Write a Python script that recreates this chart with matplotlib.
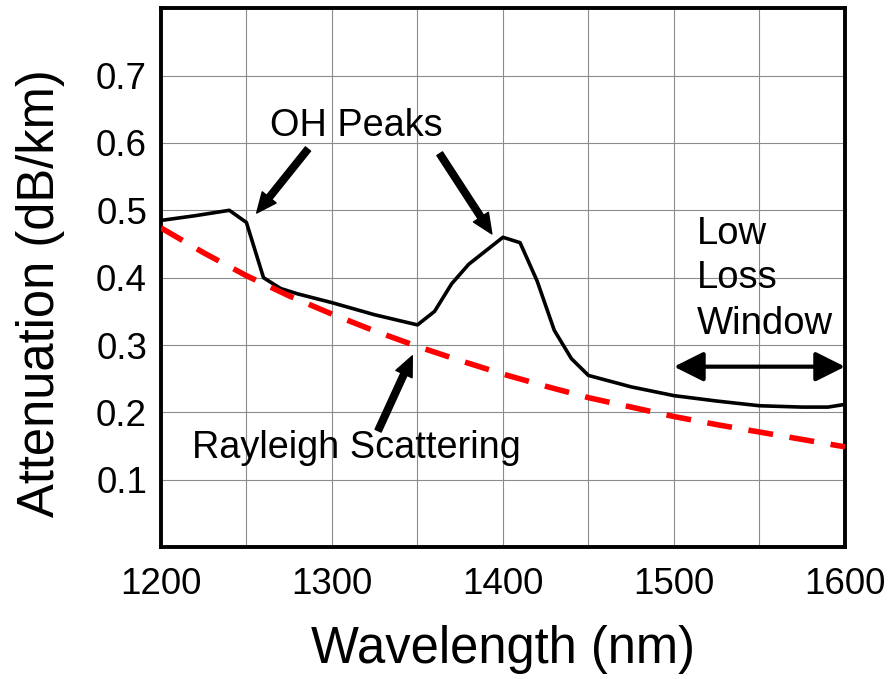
import numpy as np
import matplotlib.pyplot as plt
from matplotlib.ticker import MultipleLocator

plt.rcParams['font.family'] = ['Liberation Sans', 'DejaVu Sans']

# measured attenuation (black curve)
wl_meas = [1200, 1220, 1240, 1250, 1260, 1270, 1280, 1300, 1325, 1350,
           1360, 1370, 1380, 1390, 1400, 1410, 1420, 1430, 1440, 1450,
           1475, 1500, 1525, 1550, 1575, 1590, 1600]
att_meas = [0.485, 0.492, 0.500, 0.482, 0.400, 0.384, 0.376, 0.363, 0.345, 0.330,
            0.350, 0.391, 0.420, 0.440, 0.460, 0.452, 0.395, 0.322, 0.280, 0.255,
            0.238, 0.225, 0.217, 0.210, 0.208, 0.208, 0.212]

# rayleigh scattering limit (red dashed)
wl_ray = [1200, 1225, 1250, 1275, 1300, 1325, 1350, 1375, 1400,
          1425, 1450, 1475, 1500, 1525, 1550, 1575, 1600]
att_ray = [0.474, 0.437, 0.403, 0.373, 0.346, 0.321, 0.298, 0.277, 0.257,
           0.239, 0.222, 0.208, 0.194, 0.182, 0.171, 0.160, 0.149]

fig = plt.figure(figsize=(8.89, 6.79), dpi=100)
ax = fig.add_axes([0.181, 0.194, 0.7695, 0.794])

ax.plot(wl_meas, att_meas, color='black', lw=2.6, zorder=3)
ax.plot(wl_ray, att_ray, color='#ff0000', lw=4, dashes=(4.5, 3), zorder=3)

ax.set_xlim(1200, 1600)
ax.set_ylim(0, 0.8)
ax.xaxis.set_major_locator(MultipleLocator(100))
ax.xaxis.set_minor_locator(MultipleLocator(50))
ax.set_yticks([0.1, 0.2, 0.3, 0.4, 0.5, 0.6, 0.7])
ax.yaxis.set_minor_locator(MultipleLocator(0.1))
ax.grid(True, which='both', color='#8c8c8c', lw=0.8)
ax.set_axisbelow(True)
ax.tick_params(which='both', length=0, labelsize=26.5)
ax.tick_params(axis='x', pad=14)
ax.tick_params(axis='y', pad=10)
for s in ax.spines.values():
    s.set_linewidth(2.8)

ax.set_xlabel('Wavelength (nm)', fontsize=36.5, labelpad=17)
ax.set_ylabel('Attenuation (dB/km)', fontsize=36.5)
ax.yaxis.set_label_coords(-0.14, 0.471)

arrow = dict(arrowstyle='simple,head_length=0.9,head_width=0.8,tail_width=0.3',
             color='black', mutation_scale=16, shrinkA=0, shrinkB=0)

ax.text(1314.5, 0.61, 'OH Peaks', fontsize=27.3, ha='center', va='baseline')
ax.annotate('', xy=(1256, 0.496), xytext=(1286, 0.591), arrowprops=arrow)
ax.annotate('', xy=(1393.5, 0.465), xytext=(1363, 0.584), arrowprops=arrow)

ax.text(1218, 0.132, 'Rayleigh Scattering', fontsize=27.3, ha='left', va='baseline')
ax.annotate('', xy=(1347, 0.284), xytext=(1327, 0.173), arrowprops=arrow)

window_lines = ['Low', 'Loss', 'Window']
window_base = [0.450, 0.384, 0.317]
for txt, yb in zip(window_lines, window_base):
    ax.text(1513.5, yb, txt, fontsize=27.5, ha='left', va='baseline')
ax.annotate('', xy=(1600, 0.268), xytext=(1500, 0.268),
            arrowprops=dict(arrowstyle='<|-|>,head_length=0.9,head_width=0.45',
                            color='black', lw=3, mutation_scale=20,
                            shrinkA=0, shrinkB=0), annotation_clip=False)

fig.savefig('out.png', dpi=100)
